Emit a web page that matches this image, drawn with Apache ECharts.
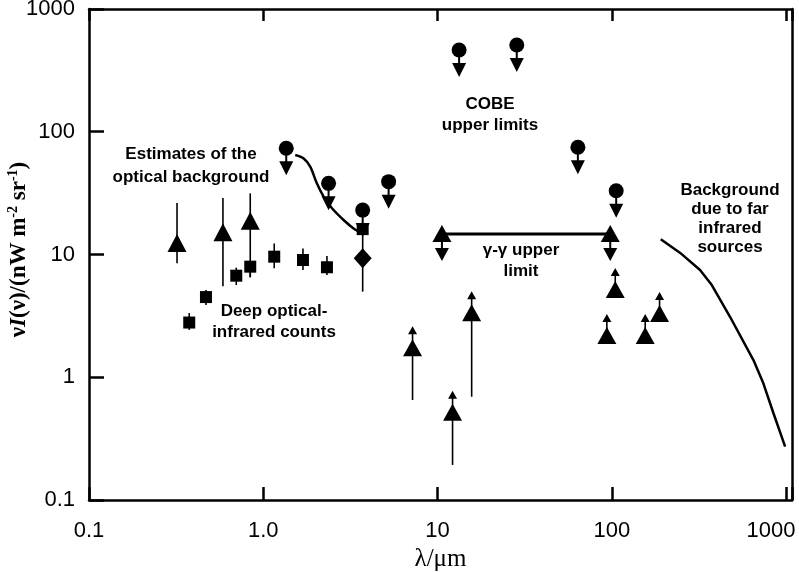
<!DOCTYPE html>
<html>
<head>
<meta charset="utf-8">
<script src="https://cdn.jsdelivr.net/npm/echarts@6/dist/echarts.min.js"></script>
<style>html,body{margin:0;background:#fff}#main{width:799px;height:572px}</style>
</head>
<body>
<div id="main"></div>
<script>
// values: x = wavelength (um), y = nW m^-2 sr^-1
// [x, y, low, high]
var opticalEst = [[0.32, 12.4, 8.5, 26.3], [0.587, 15.2, 5.5, 28.9], [0.842, 18.8, 6.5, 31.5]];
var deepCounts = [[0.376, 2.79, 2.43, 3.33], [0.469, 4.5, 3.88, 5.14], [0.70, 6.72, 5.64, 7.81],
    [0.842, 7.96, 6.56, 7.96], [1.156, 9.6, 7.72, 12.3], [1.69, 9.02, 7.47, 11.2],
    [2.32, 7.87, 6.81, 9.72], [3.72, 16.1, 16.1, 16.1]];
var diamondPt = [[3.72, 9.31, 4.98, 16.1]];
// circles with downward arrows
var cobeLimits = [[1.355, 73.3], [2.37, 38.0], [3.72, 23.0], [5.24, 39.2],
    [13.3, 463], [28.5, 509], [63.9, 74.7], [106, 33.1]];
var gammaLimit = [[10.6, 14.7], [98, 14.7]];
// [x, y, low end of bar]
var lowerLimits = [[7.19, 1.72, 0.653], [12.2, 0.514, 0.193], [15.7, 3.32, 0.694],
    [104.7, 5.14, 5.14], [93.7, 2.17, 2.17], [155.5, 2.17, 2.17], [188, 3.27, 3.27]];
var opticalCurve = [[1.526, 64.7], [1.70, 60.8], [1.86, 51.9], [2.03, 38.0], [2.22, 29.6],
    [2.48, 23.8], [2.89, 19.1], [3.30, 16.3], [3.68, 14.9]];
var farIRCurve = [[191, 13.3], [247, 10.3], [321, 7.48], [375, 5.64], [477, 3.11],
    [650, 1.38], [741, 0.893], [847, 0.509], [988, 0.272]];
var xTicks = [0.1, 1, 10, 100, 1000];
var xTickText = ['0.1', '1.0', '10', '100', '{m|1000}'];
var yTicks = [0.1, 1, 10, 100, 1000];
var yTickText = ['0.1', '1', '10', '100', '1000'];

// error bars [x, low, high]
var errBars = [];
opticalEst.concat(deepCounts, diamondPt).forEach(function (d) { errBars.push([d[0], d[2], d[3]]); });
lowerLimits.forEach(function (d) { errBars.push([d[0], d[2], d[1]]); });

function tickFmt(ticks, texts) {
    return function (v) {
        for (var i = 0; i < ticks.length; i++) {
            if (Math.abs(Math.log10(v) - Math.log10(ticks[i])) < 1e-6) return texts[i];
        }
        return '';
    };
}

var axisLine = {show: true, onZero: false, lineStyle: {color: '#000', width: 2.5}};

var chart = echarts.init(document.getElementById('main'));
chart.setOption({
    animation: false,
    grid: {left: 89, right: 7, top: 9, bottom: 72, outerBoundsMode: 'none', containLabel: false},
    xAxis: [{
        type: 'log', logBase: 10, min: 0.1, max: 1082, position: 'bottom',
        axisLine: axisLine,
        axisTick: {show: true, inside: true, length: 13, lineStyle: {color: '#000', width: 2.5}},
        splitLine: {show: false}, minorTick: {show: false},
        axisLabel: {formatter: tickFmt(xTicks, xTickText), color: '#000', fontSize: 22,
            fontFamily: 'Liberation Sans', margin: 20,
            rich: {m: {fontSize: 22, fontFamily: 'Liberation Sans', color: '#000', padding: [0, 30, 0, 0]}}},
        name: 'λ/μm', nameLocation: 'middle', nameGap: 47, nameMoveOverlap: false,
        nameTextStyle: {fontFamily: 'Liberation Serif', fontSize: 25, color: '#000'}
    }, {
        type: 'log', logBase: 10, min: 0.1, max: 1082, position: 'top',
        axisLine: axisLine,
        axisTick: {show: true, inside: true, length: 12, lineStyle: {color: '#000', width: 2.5}},
        splitLine: {show: false}, axisLabel: {show: false}
    }],
    yAxis: [{
        type: 'log', logBase: 10, min: 0.1, max: 1000, position: 'left',
        axisLine: axisLine,
        axisTick: {show: true, inside: true, length: 15, lineStyle: {color: '#000', width: 2.5}},
        splitLine: {show: false}, minorTick: {show: false},
        axisLabel: {formatter: tickFmt(yTicks, yTickText), color: '#000', fontSize: 22,
            fontFamily: 'Liberation Sans', margin: 14},
        name: '{a|ν}{i|I}{a|(ν)/(nW m}{s|-2}{a| sr}{s|-1}{a|)}',
        nameLocation: 'middle', nameRotate: 90, nameGap: 56, nameMoveOverlap: false,
        nameTextStyle: {
            padding: [0, 0, 0, 10],
            rich: {
                a: {fontFamily: 'Liberation Serif', fontSize: 23, fontWeight: 'bold', color: '#000', lineHeight: 27},
                i: {fontFamily: 'Liberation Serif', fontSize: 23, fontWeight: 'bold', fontStyle: 'italic', color: '#000', lineHeight: 27},
                s: {fontFamily: 'Liberation Serif', fontSize: 14, fontWeight: 'bold', color: '#000', lineHeight: 14, verticalAlign: 'top'}
            }
        }
    }, {
        type: 'log', logBase: 10, min: 0.1, max: 1000, position: 'right',
        axisLine: axisLine, axisTick: {show: false}, splitLine: {show: false}, axisLabel: {show: false}
    }],
    graphic: [
        {type: 'text', x: 191, y: 166, style: {text: 'Estimates of the\noptical background', fill: '#000',
            font: 'bold 17px "Liberation Sans"', align: 'center', verticalAlign: 'middle', lineHeight: 23}},
        {type: 'text', x: 274, y: 322, style: {text: 'Deep optical-\ninfrared counts', fill: '#000',
            font: 'bold 17px "Liberation Sans"', align: 'center', verticalAlign: 'middle', lineHeight: 21}},
        {type: 'text', x: 490, y: 115, style: {text: 'COBE\nupper limits', fill: '#000',
            font: 'bold 17px "Liberation Sans"', align: 'center', verticalAlign: 'middle', lineHeight: 21}},
        {type: 'text', x: 521, y: 261, style: {text: 'γ-γ upper\nlimit', fill: '#000',
            font: 'bold 17px "Liberation Sans"', align: 'center', verticalAlign: 'middle', lineHeight: 21}},
        {type: 'text', x: 730, y: 219, style: {text: 'Background\ndue to far\ninfrared\nsources', fill: '#000',
            font: 'bold 17px "Liberation Sans"', align: 'center', verticalAlign: 'middle', lineHeight: 19}}
    ],
    series: [
        {
            type: 'custom', name: 'error bars', data: errBars, z: 1,
            renderItem: function (params, api) {
                var a = api.coord([api.value(0), api.value(1)]);
                var b = api.coord([api.value(0), api.value(2)]);
                return {type: 'line', shape: {x1: a[0], y1: a[1], x2: b[0], y2: b[1]},
                    style: {stroke: '#000', lineWidth: 1.6}};
            }
        },
        {
            type: 'line', name: 'optical curve', data: opticalCurve, showSymbol: false, smooth: 0.3,
            lineStyle: {color: '#000', width: 2.5}, z: 2
        },
        {
            type: 'line', name: 'far infrared', data: farIRCurve, showSymbol: false,
            lineStyle: {color: '#000', width: 2.5}, z: 2
        },
        {
            type: 'line', name: 'gamma-gamma', data: gammaLimit, showSymbol: false,
            lineStyle: {color: '#000', width: 3}, z: 2
        },
        {
            type: 'scatter', name: 'optical estimates', data: opticalEst, symbol: 'triangle',
            symbolSize: [19, 18], itemStyle: {color: '#000', opacity: 1}, z: 3
        },
        {
            type: 'scatter', name: 'deep counts', data: deepCounts, symbol: 'rect',
            symbolSize: [12, 12], itemStyle: {color: '#000', opacity: 1}, z: 3
        },
        {
            type: 'scatter', name: 'diamond', data: diamondPt, symbol: 'diamond',
            symbolSize: [18, 20], itemStyle: {color: '#000', opacity: 1}, z: 3
        },
        {
            type: 'custom', name: 'COBE upper limits', data: cobeLimits, z: 3,
            renderItem: function (params, api) {
                var c = api.coord([api.value(0), api.value(1)]);
                var x = c[0], y = c[1];
                return {type: 'group', children: [
                    {type: 'circle', shape: {cx: x, cy: y, r: 7.5}, style: {fill: '#000'}},
                    {type: 'line', shape: {x1: x, y1: y, x2: x, y2: y + 16}, style: {stroke: '#000', lineWidth: 2}},
                    {type: 'polygon', shape: {points: [[x - 7, y + 13], [x + 7, y + 13], [x, y + 27]]}, style: {fill: '#000'}}
                ]};
            }
        },
        {
            type: 'custom', name: 'gamma limits', data: gammaLimit, z: 3,
            renderItem: function (params, api) {
                var c = api.coord([api.value(0), api.value(1)]);
                var x = c[0], y = c[1];
                return {type: 'group', children: [
                    {type: 'polygon', shape: {points: [[x, y - 9], [x + 9.5, y + 8], [x - 9.5, y + 8]]}, style: {fill: '#000'}},
                    {type: 'line', shape: {x1: x, y1: y + 6, x2: x, y2: y + 16}, style: {stroke: '#000', lineWidth: 2}},
                    {type: 'polygon', shape: {points: [[x - 7, y + 14], [x + 7, y + 14], [x, y + 27]]}, style: {fill: '#000'}}
                ]};
            }
        },
        {
            type: 'custom', name: 'lower limits', data: lowerLimits, z: 3,
            renderItem: function (params, api) {
                var c = api.coord([api.value(0), api.value(1)]);
                var x = c[0], y = c[1];
                return {type: 'group', children: [
                    {type: 'polygon', shape: {points: [[x, y - 9], [x + 9.5, y + 8], [x - 9.5, y + 8]]}, style: {fill: '#000'}},
                    {type: 'line', shape: {x1: x, y1: y - 6, x2: x, y2: y - 16}, style: {stroke: '#000', lineWidth: 1.6}},
                    {type: 'polygon', shape: {points: [[x - 4.5, y - 14], [x + 4.5, y - 14], [x, y - 22]]}, style: {fill: '#000'}}
                ]};
            }
        }
    ]
});
</script>
</body>
</html>
